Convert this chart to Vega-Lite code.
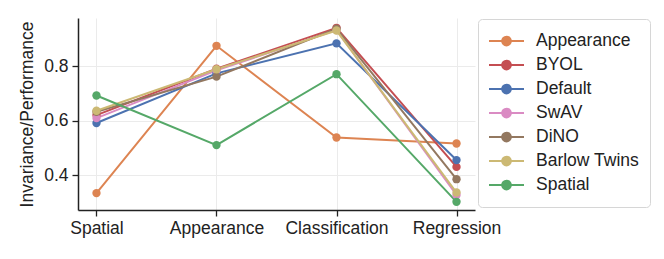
{
  "$schema": "https://vega.github.io/schema/vega-lite/v6.json",
  "width": 397,
  "height": 192,
  "autosize": {"type": "none"},
  "padding": {"left": 78, "top": 18, "right": 189, "bottom": 49},
  "background": "white",
  "data": {"values": [
    {"model": "Appearance", "task": "Spatial", "v": 0.334},
    {"model": "Appearance", "task": "Appearance", "v": 0.874},
    {"model": "Appearance", "task": "Classification", "v": 0.538},
    {"model": "Appearance", "task": "Regression", "v": 0.516},
    {"model": "BYOL", "task": "Spatial", "v": 0.62},
    {"model": "BYOL", "task": "Appearance", "v": 0.79},
    {"model": "BYOL", "task": "Classification", "v": 0.94},
    {"model": "BYOL", "task": "Regression", "v": 0.43},
    {"model": "Default", "task": "Spatial", "v": 0.591},
    {"model": "Default", "task": "Appearance", "v": 0.773},
    {"model": "Default", "task": "Classification", "v": 0.883},
    {"model": "Default", "task": "Regression", "v": 0.455},
    {"model": "SwAV", "task": "Spatial", "v": 0.609},
    {"model": "SwAV", "task": "Appearance", "v": 0.784},
    {"model": "SwAV", "task": "Classification", "v": 0.932},
    {"model": "SwAV", "task": "Regression", "v": 0.327},
    {"model": "DiNO", "task": "Spatial", "v": 0.632},
    {"model": "DiNO", "task": "Appearance", "v": 0.761},
    {"model": "DiNO", "task": "Classification", "v": 0.937},
    {"model": "DiNO", "task": "Regression", "v": 0.385},
    {"model": "Barlow Twins", "task": "Spatial", "v": 0.636},
    {"model": "Barlow Twins", "task": "Appearance", "v": 0.788},
    {"model": "Barlow Twins", "task": "Classification", "v": 0.93},
    {"model": "Barlow Twins", "task": "Regression", "v": 0.336},
    {"model": "Spatial", "task": "Spatial", "v": 0.692},
    {"model": "Spatial", "task": "Appearance", "v": 0.51},
    {"model": "Spatial", "task": "Classification", "v": 0.77},
    {"model": "Spatial", "task": "Regression", "v": 0.302}
  ]},
  "encoding": {
    "x": {
      "field": "task", "type": "nominal",
      "sort": ["Spatial", "Appearance", "Classification", "Regression"],
      "scale": {"type": "point", "padding": 0.154},
      "axis": {"title": null, "labelAngle": 0, "labelFontSize": 17.5, "labelFont": "Liberation Sans", "labelColor": "#222", "domainColor": "#222", "domainWidth": 1.5, "tickColor": "#222", "tickWidth": 1.3, "tickSize": 6, "labelPadding": 3, "grid": true, "gridColor": "#ebebeb", "gridWidth": 1}
    },
    "y": {
      "field": "v", "type": "quantitative",
      "scale": {"domain": [0.272, 0.976], "nice": false, "zero": false},
      "axis": {"title": "Invariance/Performance", "titleFontSize": 17.5, "titleFont": "Liberation Sans", "titleFontWeight": "normal", "titleColor": "#222", "titlePadding": 7, "values": [0.4, 0.6, 0.8], "format": ".1f", "labelFontSize": 17.5, "labelFont": "Liberation Sans", "labelColor": "#222", "domainColor": "#222", "domainWidth": 1.5, "tickColor": "#222", "tickWidth": 1.3, "tickSize": 6, "labelPadding": 4, "grid": true, "gridColor": "#ebebeb", "gridWidth": 1}
    },
    "color": {
      "field": "model", "type": "nominal",
      "scale": {
        "domain": ["Appearance", "BYOL", "Default", "SwAV", "DiNO", "Barlow Twins", "Spatial"],
        "range": ["#DD8452", "#C44E52", "#4C72B0", "#DA8BC3", "#937860", "#CCB974", "#55A868"]
      },
      "legend": {
        "title": null, "orient": "none", "legendX": 400, "legendY": 1,
        "labelFontSize": 17.5, "labelFont": "Liberation Sans", "labelColor": "#222",
        "symbolType": "M-1,0H1M0.25,0A0.25,0.25 0 1,1 -0.25,0A0.25,0.25 0 1,1 0.25,0",
        "symbolSize": 1225, "symbolStrokeWidth": 2, "symbolOpacity": 1,
        "rowPadding": 0, "clipHeight": 24, "labelOffset": 11,
        "padding": 10, "strokeColor": "#d6d6d6", "cornerRadius": 4, "fillColor": "white"
      }
    }
  },
  "layer": [
    {"mark": {"type": "line", "strokeWidth": 2}},
    {"mark": {"type": "point", "filled": true, "size": 70, "opacity": 1}}
  ],
  "config": {
    "view": {"stroke": null},
    "font": "Liberation Sans"
  }
}
